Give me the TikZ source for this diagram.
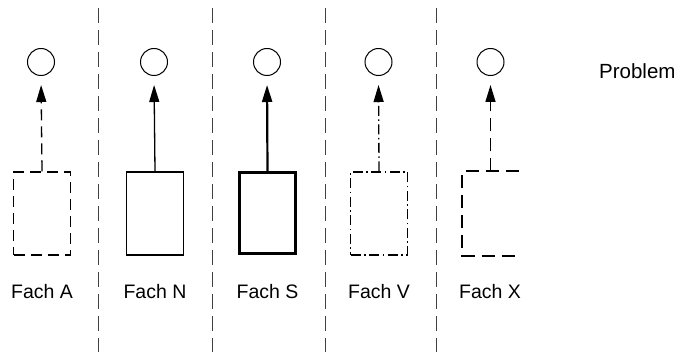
\documentclass[tikz,border=0pt]{standalone}
\usepackage{fontspec}
\setmainfont{Liberation Sans}
\usetikzlibrary{arrows.meta}
\begin{document}
\begin{tikzpicture}[x=1pt,y=-1pt,
  goal/.style={circle,draw,line width=1pt,minimum size=27pt,inner sep=0pt},
  fachbox/.style={rectangle,minimum width=57pt,minimum height=83pt,inner sep=0pt,line width=1.4pt},
  fachlabel/.style={font=\fontsize{19.5}{22}\selectfont,inner sep=0pt},
  conn/.style={line width=1.3pt,-{Triangle[length=17pt,width=10pt]},shorten >=9pt},
  divider/.style={line width=1pt,black!75,dash pattern=on 15pt off 7pt},
  dashA/.style={dash pattern=on 11pt off 6pt},
  dashV/.style={dash pattern=on 10pt off 3.5pt on 1.5pt off 3.5pt},
  dashX/.style={dash pattern=on 13pt off 7pt}]
\useasboundingbox (0,0) rectangle (681,358);
% dividers
\foreach \x/\n in {98/d1,212/d2,325/d3,436/d4}{
  \coordinate (\n t) at (\x,8);
  \coordinate (\n b) at (\x,352);
  \draw[divider] (\n t) -- (\n b);
}
% circles
\node[goal] (cA) at (41,62) {};
\node[goal] (cN) at (154,62) {};
\node[goal] (cS) at (267,62) {};
\node[goal] (cV) at (378.5,62) {};
\node[goal] (cX) at (490.5,62) {};
% boxes
\node[fachbox,draw,dashA] (bA) at (42,213.5) {};
\node[fachbox,draw,line width=1.5pt] (bN) at (155,213.5) {};
\node[fachbox,draw,line width=3pt,minimum width=56pt,minimum height=81pt] (bS) at (267.5,213.5) {};
\node[fachbox,draw,dashV] (bV) at (379,213.5) {};
\node[fachbox,minimum width=55pt] (bX) at (490.5,213.5) {};
\draw[line width=2pt,dashX,dash phase=0pt] (bX.north east) -- (bX.north west) -- (bX.south west) -- (bX.south east);
% arrows
\draw[conn,dashA] (bA.north) -- (cA.south);
\draw[conn] (bN.north) -- (cN.south);
\draw[conn,line width=2.2pt] (bS.north) -- (cS.south);
\draw[conn,dashV] (bV.north) -- (cV.south);
\draw[conn,line width=1.6pt,dashX] (bX.north) -- (cX.south);
% labels
\node[fachlabel] (lA) at (42,292) {Fach A};
\node[fachlabel] (lN) at (155,292) {Fach N};
\node[fachlabel] (lS) at (267.5,292) {Fach S};
\node[fachlabel] (lV) at (379,292) {Fach V};
\node[fachlabel] (lX) at (490,292) {Fach X};
\node[font=\fontsize{20.5}{24}\selectfont,inner sep=0pt,anchor=west] (prob) at (599,71) {Problem};
\end{tikzpicture}
\end{document}
